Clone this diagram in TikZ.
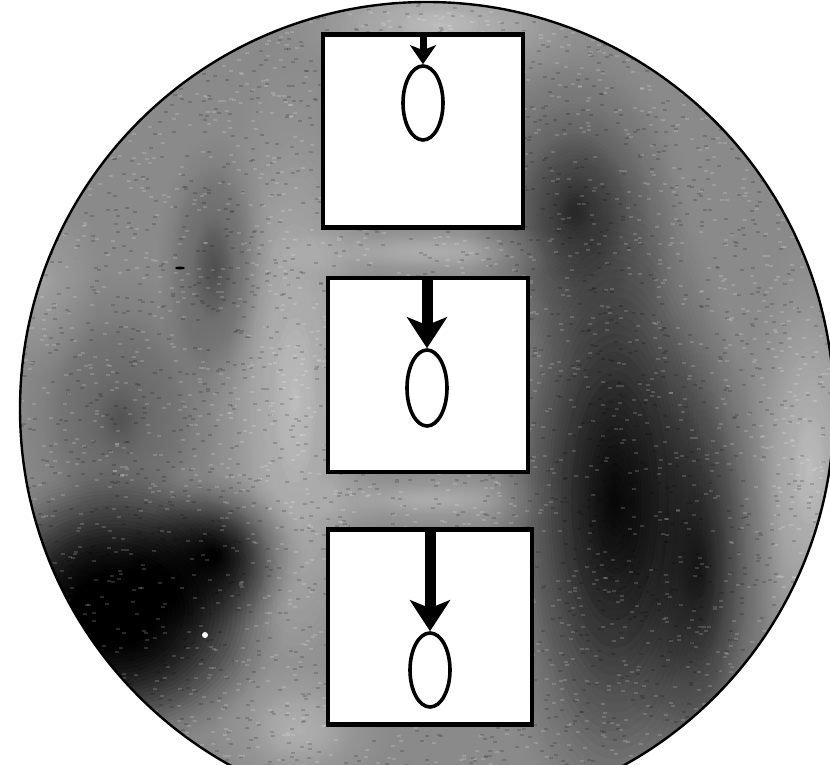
\documentclass[tikz,border=0pt]{standalone}
\usetikzlibrary{shapes.geometric,arrows.meta}
\tikzset{
	frame/.style={draw, fill=white, line width=4.5pt, inner sep=0pt},
	lens/.style={draw, ellipse, line width=3.6pt, inner sep=0pt, minimum width=40pt, minimum height=74pt},
	sink/.style={line width=7pt, -{Stealth[length=19pt, width=26pt, inset=5pt]}},
	bigsink/.style={line width=11pt, -{Stealth[length=31pt, width=40pt, inset=8pt]}}
}
\begin{document}
\begin{tikzpicture}[x=1pt,y=-1pt]
	\useasboundingbox (0,0) rectangle (830,765);
	\clip (0,0) rectangle (830,765);
	\coordinate (W) at (427,409);
	\begin{scope}
		\clip (W) circle (407pt);
		\fill[black!46] (W) circle (407pt);
		\foreach \cx/\cy/\rx/\ry/\c/\o in {
			295/400/120/470/white/0.02,
			440/25/220/85/white/0.02,
			430/252/260/45/white/0.014,
			430/500/240/48/white/0.013,
			300/730/130/100/white/0.015,
			810/470/90/310/white/0.02,
			40/280/120/190/white/0.01,
			575/210/120/170/black/0.02,
			615/500/135/370/black/0.045,
			700/570/85/280/black/0.025,
			215/270/65/150/black/0.01,
			120/420/120/170/black/0.008,
			115/610/175/150/black/0.1,
			215/555/95/85/black/0.04}{
			\foreach \s in {0.025,0.05,...,1.0}{
				\pgfmathsetmacro{\op}{\o*2*(1.0125-\s)}
				\fill[\c, opacity=\op] (\cx,\cy) ellipse ({\rx*\s*1pt} and {\ry*\s*1pt});
			}
		}
		\pgfmathsetseed{7}
		\foreach \i in {1,...,2600}{
			\pgfmathsetmacro{\px}{rnd*830}
			\pgfmathsetmacro{\py}{rnd*765}
			\fill[black, opacity=0.16] (\px,\py) rectangle ++(4,2);
		}
		\foreach \i in {1,...,2600}{
			\pgfmathsetmacro{\px}{rnd*830}
			\pgfmathsetmacro{\py}{rnd*765}
			\fill[white, opacity=0.16] (\px,\py) rectangle ++(4,2);
		}
		\fill[white] (205,635) circle (3pt);
		\fill[black] (180,268) ellipse (5pt and 1.5pt);
	\end{scope}
	\draw[line width=2.4pt] (W) circle (407pt);
	\node[frame, minimum width=200pt, minimum height=193pt] (F1) at (423,131) {};
	\node[frame, minimum width=200pt, minimum height=194pt] (F2) at (428,375) {};
	\node[frame, minimum width=204pt, minimum height=195pt] (F3) at (430,627) {};
	\node[lens] (E1) at (423,103) {};
	\node[lens, minimum height=76pt] (E2) at (427,388) {};
	\node[lens] (E3) at (430,670) {};
	\draw[sink] (F1.north -| E1.north) -- (E1.north);
	\draw[bigsink] (F2.north -| E2.north) -- (E2.north);
	\draw[bigsink] (F3.north -| E3.north) -- (E3.north);
\end{tikzpicture}
\end{document}
